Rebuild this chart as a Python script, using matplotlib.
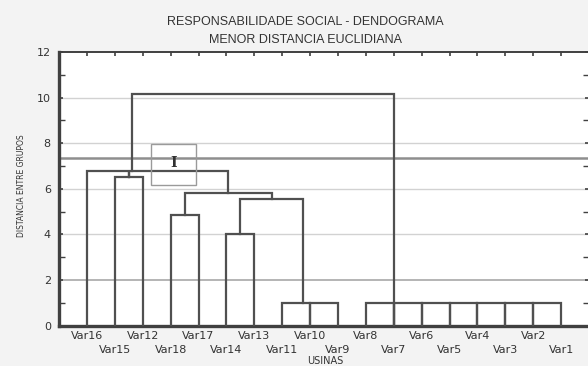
import numpy as np
import matplotlib.pyplot as plt
from matplotlib.patches import Rectangle

leaf_labels = ['Var16', 'Var15', 'Var12', 'Var18', 'Var17', 'Var14', 'Var13', 'Var11', 'Var10',
               'Var9', 'Var8', 'Var7', 'Var6', 'Var5', 'Var4', 'Var3', 'Var2', 'Var1']

# links of the tree: left/right stem position, base of each stem, joining height
link_left = [2, 4, 6, 8, 9, 11, 12, 13, 14, 15, 16, 17, 6.5, 4.5, 1, 2.5, 2.61]
link_right = [3, 5, 7, 9, 10, 12, 13, 14, 15, 16, 17, 18, 8.75, 7.63, 6.05, 2.5, 12]
link_left_base = [0, 0, 0, 0, 0, 0, 0, 0, 0, 0, 0, 0, 4.02, 4.86, 0, 6.54, 6.78]
link_right_base = [0, 0, 0, 0, 0, 0, 0, 0, 0, 0, 0, 0, 1.0, 5.56, 5.8, 6.54, 0]
link_height = [6.54, 4.86, 4.02, 1.0, 1.0, 1.0, 1.0, 1.0, 1.0, 1.0, 1.0, 1.0, 5.56, 5.8, 6.78, 6.78, 10.15]

cut_height = 7.37
y_ticks = [0, 2, 4, 6, 8, 10, 12]

fig = plt.figure(figsize=(5.88, 3.66), dpi=100, facecolor='#f3f3f3')
ax = fig.add_axes([59.1 / 588, 40.3 / 366, 529.9 / 588, 273.7 / 366])
ax.set_facecolor('white')

n = len(leaf_labels)
ax.set_xlim(0, n + 1)
ax.set_ylim(0, 12)

# grid
for y in y_ticks[1:-1]:
    ax.axhline(y, color='#b4b4b4' if y == 2 else '#d2d2d2', lw=1.4 if y == 2 else 1.0, zorder=1)
ax.axhline(cut_height, color='#8e8e8e', lw=1.8, zorder=1)

# dendrogram links
for xl, xr, bl, br, h in zip(link_left, link_right, link_left_base, link_right_base, link_height):
    ax.plot([xl, xl, xr, xr], [bl, h, h, br], color='#505050', lw=1.6,
            solid_joinstyle='miter', zorder=3)

# cursor box left in the screenshot
ax.add_patch(Rectangle((3.29, 6.17), 1.61, 1.79, fill=False, edgecolor='#9a9a9a', lw=1.0, zorder=4))
ax.text(4.1, 7.15, 'I', family='DejaVu Serif', fontweight='bold', fontsize=10,
        color='#303030', ha='center', va='center', zorder=5)

# axes styling
for side in ['left', 'bottom']:
    ax.spines[side].set_linewidth(2.4)
    ax.spines[side].set_color('#404040')
ax.spines['top'].set_linewidth(1.4)
ax.spines['top'].set_color('#404040')
ax.spines['right'].set_linewidth(1.4)
ax.spines['right'].set_color('#404040')

ax.set_yticks(y_ticks)
ax.set_yticklabels([str(v) for v in y_ticks], fontsize=8, color='#333333')
ax.set_yticks(np.arange(1, 12, 2), minor=True)
ax.tick_params(axis='y', which='major', left=True, right=True, direction='in', length=3,
               width=1.2, color='#404040', pad=6)
ax.tick_params(axis='y', which='minor', left=True, right=True, direction='in', length=4,
               width=1.0, color='#404040')

# leaf labels in two staggered rows: upper row as major ticks, lower row as minor ticks
positions = np.arange(1, n + 1)
ax.set_xticks(positions[::2])
ax.set_xticklabels(leaf_labels[::2], fontsize=8, color='#333333')
ax.set_xticks(positions[1::2], minor=True)
ax.set_xticklabels(leaf_labels[1::2], minor=True, fontsize=8, color='#333333')
ax.tick_params(axis='x', which='major', bottom=False, top=True, direction='in', length=3,
               width=1.2, color='#404040', pad=4)
ax.tick_params(axis='x', which='minor', bottom=False, top=True, direction='in', length=3,
               width=1.2, color='#404040', pad=14)

fig.text(0.519, 0.94, 'RESPONSABILIDADE SOCIAL - DENDOGRAMA', fontsize=9, color='#333333',
         ha='center', va='center', family='Liberation Sans')
fig.text(0.519, 0.89, 'MENOR DISTANCIA EUCLIDIANA', fontsize=9, color='#333333',
         ha='center', va='center', family='Liberation Sans')
fig.text(0.037, 0.492, 'DISTANCIA ENTRE GRUPOS', fontsize=5.5, color='#333333',
         rotation=90, ha='center', va='center')
fig.text(0.553, 1 - 356 / 366, 'USINAS', fontsize=7, color='#333333', ha='center', va='top')

fig.savefig('out.png', dpi=100, facecolor=fig.get_facecolor())
